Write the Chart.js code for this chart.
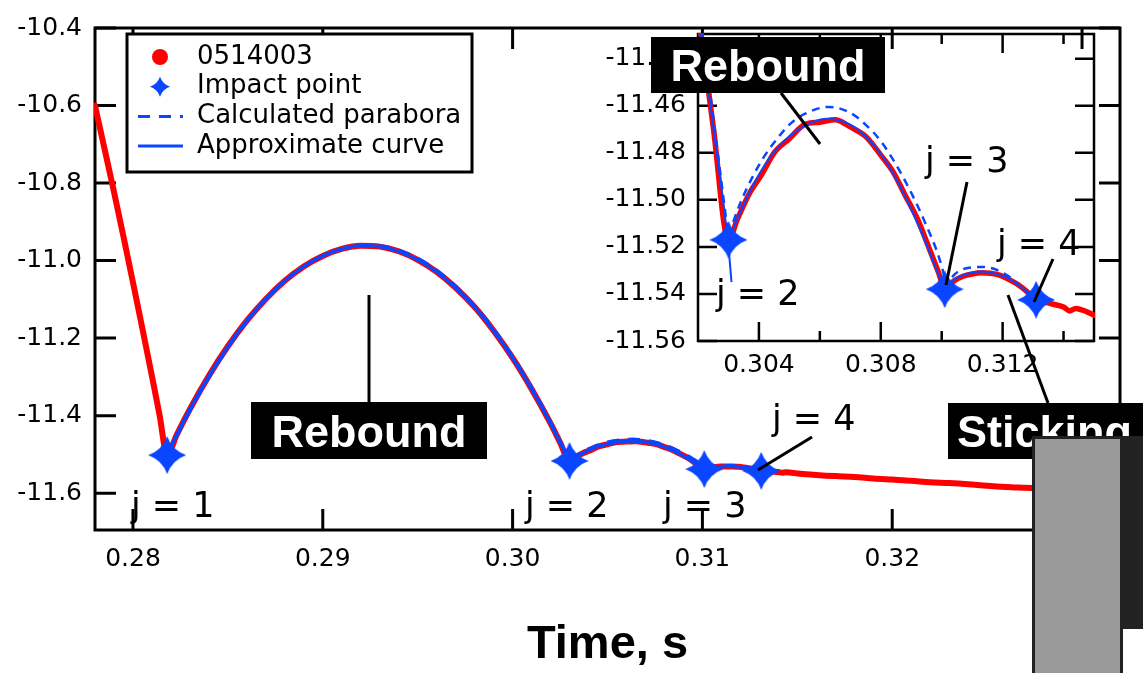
<!DOCTYPE html>
<html>
<head>
<meta charset="utf-8">
<script src="https://cdn.jsdelivr.net/npm/chart.js@4.4.1/dist/chart.umd.min.js"></script>
<style>
html, body { margin: 0; padding: 0; background: #fff; overflow: hidden; }
#wrap { position: relative; width: 1143px; height: 673px; }
#main { position: absolute; left: 0; top: 0; }
#inset { position: absolute; left: 560px; top: 0; }
.cover { position: absolute; }
</style>
</head>
<body>
<div id="wrap">
  <canvas id="main" width="1143" height="673"></canvas>
  <canvas id="inset" width="583" height="410"></canvas>
  <div class="cover" style="left:1119px;top:436px;width:24px;height:193px;background:#222"></div>
  <div class="cover" style="left:1032px;top:436px;width:85px;height:240px;background:#999;border:3px solid #222;border-bottom:none"></div>
</div>
<script>
// data: time in s, height in mm
const seriesNames = ['0514003', 'Impact point', 'Calculated parabora', 'Approximate curve'];

// measured trajectory 0514003
const measT = [0.2780, 0.2785, 0.2790, 0.2795, 0.2800, 0.2805, 0.2810, 0.2814, 0.2818,
  0.2823, 0.2830, 0.2840, 0.2850, 0.2860, 0.2870, 0.2880, 0.2890, 0.2900, 0.2910, 0.2920,
  0.2930, 0.2940, 0.2950, 0.2960, 0.2970, 0.2980, 0.2990, 0.3000, 0.3010, 0.3020, 0.3025, 0.3030,
  0.3033, 0.3037, 0.3041, 0.3045, 0.3050, 0.3055, 0.3060, 0.3065, 0.3070, 0.3075, 0.3080,
  0.3084, 0.3088, 0.3092, 0.3096, 0.3099, 0.3101,
  0.3104, 0.3107, 0.3110, 0.3113, 0.3116, 0.3119, 0.3122, 0.3125, 0.3128, 0.3131,
  0.3134, 0.3137, 0.3140, 0.3142, 0.3144, 0.3146, 0.3148, 0.3150, 0.3155, 0.3160, 0.3170,
  0.3180, 0.3190, 0.3200, 0.3210, 0.3220, 0.3230, 0.3240, 0.3250, 0.3260, 0.3270, 0.3280, 0.3290];
const measY = [-10.600, -10.711, -10.823, -10.938, -11.056, -11.176, -11.298, -11.398, -11.502,
  -11.450, -11.383, -11.297, -11.221, -11.155, -11.099, -11.052, -11.015, -10.988, -10.970, -10.962,
  -10.964, -10.976, -10.998, -11.029, -11.070, -11.120, -11.181, -11.251, -11.331, -11.420, -11.469, -11.517,
  -11.508, -11.497, -11.489, -11.480, -11.474, -11.468, -11.467, -11.466, -11.469, -11.473, -11.481,
  -11.488, -11.498, -11.508, -11.521, -11.531, -11.538,
  -11.5345, -11.5325, -11.5315, -11.531, -11.5312, -11.532, -11.5338, -11.536, -11.539, -11.5425,
  -11.5435, -11.5445, -11.5455, -11.5472, -11.5462, -11.5468, -11.5478, -11.549, -11.551, -11.553, -11.556,
  -11.558, -11.562, -11.565, -11.568, -11.572, -11.574, -11.577, -11.581, -11.584, -11.586, -11.588, -11.590];

// impact points j = 1..4
const impactT = [0.2818, 0.3030, 0.3101, 0.3131];
const impactY = [-11.502, -11.517, -11.538, -11.5425];

// calculated parabola, one arc per rebound (null = break)
const paraT = [0.2818, 0.2825, 0.2835, 0.2850, 0.2865, 0.2880, 0.2895, 0.2910, 0.2923, 0.2935,
  0.2950, 0.2965, 0.2980, 0.2995, 0.3010, 0.3020, 0.3025, 0.3030, 0.3030,
  0.3030, 0.3034, 0.3038, 0.3042, 0.3046, 0.3050, 0.3055, 0.3063, 0.3070, 0.3075, 0.3080,
  0.3085, 0.3090, 0.3095, 0.3099, 0.3101, 0.3101,
  0.3101, 0.3104, 0.3107, 0.3110, 0.3113, 0.3116, 0.3119, 0.3122, 0.3125, 0.3128, 0.3131];
const paraY = [-11.504, -11.435, -11.344, -11.225, -11.128, -11.053, -11.000, -10.969, -10.960, -10.966,
  -10.994, -11.044, -11.116, -11.210, -11.327, -11.416, -11.465, -11.516, null,
  -11.515, -11.501, -11.490, -11.481, -11.474, -11.468, -11.4635, -11.4605, -11.463, -11.468, -11.475,
  -11.485, -11.497, -11.511, -11.524, -11.533, null,
  -11.538, -11.532, -11.5295, -11.5287, -11.5285, -11.5289, -11.5303, -11.5325, -11.5357, -11.5395, -11.544];

// approximate curve
const fitT = [0.2818, 0.2823, 0.2830, 0.2840, 0.2850, 0.2860, 0.2870, 0.2880, 0.2890, 0.2900,
  0.2910, 0.2920, 0.2930, 0.2940, 0.2950, 0.2960, 0.2970, 0.2980, 0.2990, 0.3000, 0.3010,
  0.3020, 0.3025, 0.3030, 0.3031, 0.3031,
  0.3030, 0.3034, 0.3038, 0.3042, 0.3046, 0.3050, 0.3055, 0.3062, 0.3070, 0.3075, 0.3080,
  0.3085, 0.3090, 0.3095, 0.3099, 0.3101, 0.3101,
  0.3101, 0.3104, 0.3107, 0.3110, 0.3113, 0.3116, 0.3119, 0.3122, 0.3125, 0.3128, 0.3131];
const fitY = [-11.502, -11.450, -11.383, -11.298, -11.222, -11.155, -11.099, -11.052, -11.015, -10.988,
  -10.970, -10.962, -10.964, -10.976, -10.998, -11.029, -11.070, -11.120, -11.181, -11.251, -11.331,
  -11.420, -11.469, -11.520, -11.535, null,
  -11.517, -11.505, -11.494, -11.485, -11.478, -11.473, -11.4685, -11.4655, -11.468, -11.473, -11.4805,
  -11.491, -11.504, -11.519, -11.532, -11.538, null,
  -11.538, -11.534, -11.532, -11.531, -11.5305, -11.531, -11.532, -11.5335, -11.536, -11.539, -11.5425];

const mainXTicks = [0.28, 0.29, 0.30, 0.31, 0.32, 0.33];
const mainYTicks = [-10.4, -10.6, -10.8, -11.0, -11.2, -11.4, -11.6];
const insetXTicks = [0.304, 0.308, 0.312];
const insetXMinor = [0.306, 0.310, 0.314];
const insetYTicks = [-11.44, -11.46, -11.48, -11.50, -11.52, -11.54, -11.56];

const RED = '#ff0000';
const BLUE = '#0a46ff';

Chart.defaults.font.family = '"DejaVu Sans", sans-serif';
Chart.defaults.color = '#000';

function pts(T, Y) {
  return T.map((t, i) => ({x: t, y: Y[i]}));
}

// 4 pointed star used for the impact points
function starPath(g, cx, cy, R) {
  const k = R * 0.26;
  g.beginPath();
  g.moveTo(cx, cy - R);
  g.quadraticCurveTo(cx + k, cy - k, cx + R, cy);
  g.quadraticCurveTo(cx + k, cy + k, cx, cy + R);
  g.quadraticCurveTo(cx - k, cy + k, cx - R, cy);
  g.quadraticCurveTo(cx - k, cy - k, cx, cy - R);
  g.closePath();
}
const starImg = document.createElement('canvas');
starImg.width = starImg.height = 38;
(function () {
  const g = starImg.getContext('2d');
  starPath(g, 19, 19, 19);
  g.fillStyle = BLUE;
  g.fill();
})();

// frame with inward ticks on all four sides
const frameAxes = {
  id: 'frameAxes',
  beforeDatasetsDraw(chart, args, o) {
    const {ctx, chartArea: a} = chart;
    const sx = chart.scales.x, sy = chart.scales.y;
    ctx.save();
    ctx.strokeStyle = '#000';
    ctx.lineWidth = o.lw;
    ctx.beginPath();
    const seg = (x1, y1, x2, y2) => { ctx.moveTo(x1, y1); ctx.lineTo(x2, y2); };
    sx.ticks.forEach(t => {
      const p = sx.getPixelForValue(t.value);
      seg(p, a.bottom, p, a.bottom - o.len);
      seg(p, a.top, p, a.top + o.len);
    });
    (o.minorX || []).forEach(v => {
      const p = sx.getPixelForValue(v);
      seg(p, a.bottom, p, a.bottom - o.minorLen);
      seg(p, a.top, p, a.top + o.minorLen);
    });
    sy.ticks.forEach(t => {
      const p = sy.getPixelForValue(t.value);
      seg(a.left, p, a.left + o.len, p);
      seg(a.right, p, a.right - o.len, p);
    });
    ctx.stroke();
    ctx.strokeRect(a.left, a.top, a.right - a.left, a.bottom - a.top);
    ctx.restore();
  }
};

// labels, boxes and leader lines (page pixels, dx = canvas offset)
const notes = {
  id: 'notes',
  afterDatasetsDraw(chart, args, o) {
    const ctx = chart.ctx;
    ctx.save();
    ctx.translate(-o.dx, 0);
    ctx.strokeStyle = '#000';
    ctx.lineWidth = 3;
    (o.lines || []).forEach(l => {
      ctx.beginPath();
      ctx.moveTo(l[0], l[1]);
      ctx.lineTo(l[2], l[3]);
      ctx.stroke();
    });
    (o.boxes || []).forEach(b => {
      ctx.fillStyle = '#000';
      ctx.fillRect(b.x, b.y, b.w, b.h);
      ctx.fillStyle = '#fff';
      ctx.font = 'bold 45px "Liberation Sans"';
      ctx.textBaseline = 'alphabetic';
      ctx.textAlign = b.tx ? 'left' : 'center';
      ctx.fillText(b.text, b.tx || b.x + b.w / 2, b.y + b.h / 2 + 16);
    });
    ctx.fillStyle = '#000';
    ctx.font = '35px "DejaVu Sans"';
    ctx.textAlign = 'left';
    ctx.textBaseline = 'alphabetic';
    (o.texts || []).forEach(t => ctx.fillText(t.text, t.x, t.y));
    ctx.restore();
  }
};

// legend box drawn inside the main plot
const keyBox = {
  id: 'keyBox',
  afterDraw(chart, args, o) {
    const ctx = chart.ctx;
    ctx.save();
    ctx.fillStyle = '#fff';
    ctx.fillRect(o.x, o.y, o.w, o.h);
    ctx.lineWidth = 3;
    ctx.strokeStyle = '#000';
    ctx.strokeRect(o.x, o.y, o.w, o.h);
    ctx.font = '26px "DejaVu Sans"';
    ctx.textBaseline = 'middle';
    seriesNames.forEach((name, i) => {
      const ds = chart.data.datasets.find(d => d.label === name);
      const cy = o.y + 23 + i * 29.7;
      const cx = o.x + 33;
      if (i === 0) {
        ctx.fillStyle = ds.borderColor;
        ctx.beginPath();
        ctx.arc(cx, cy, 8, 0, Math.PI * 2);
        ctx.fill();
      } else if (i === 1) {
        starPath(ctx, cx, cy, 10);
        ctx.fillStyle = BLUE;
        ctx.fill();
      } else {
        ctx.strokeStyle = ds.borderColor;
        ctx.lineWidth = 3;
        ctx.setLineDash(ds.borderDash || []);
        ctx.beginPath();
        ctx.moveTo(o.x + 11, cy);
        ctx.lineTo(o.x + 56, cy);
        ctx.stroke();
        ctx.setLineDash([]);
      }
      ctx.fillStyle = '#000';
      ctx.fillText(name, o.x + 70, cy);
    });
    ctx.restore();
  }
};

function makeSets(s) {
  return [
    {label: seriesNames[1], data: pts(impactT, impactY), showLine: false,
      pointStyle: starImg, pointRadius: 19, order: 0},
    {label: seriesNames[3], data: pts(fitT, fitY), borderColor: BLUE, borderWidth: s.fit,
      pointRadius: 0, cubicInterpolationMode: 'monotone', clip: 1, order: 1},
    {label: seriesNames[2], data: pts(paraT, paraY), borderColor: BLUE, borderWidth: s.para,
      borderDash: s.dash, pointRadius: 0, cubicInterpolationMode: 'monotone', clip: 1, order: 2},
    {label: seriesNames[0], data: pts(measT, measY), borderColor: RED, borderWidth: s.meas,
      borderJoinStyle: 'round', borderCapStyle: 'round',
      pointRadius: 0, cubicInterpolationMode: 'monotone', clip: 1, order: 3}
  ];
}

function axis(min, max, ticks, digits, pad, size, fitFn, title) {
  return {
    type: 'linear', min: min, max: max,
    grid: {display: false, drawTicks: false},
    border: {display: false},
    afterBuildTicks: sc => { sc.ticks = ticks.map(v => ({value: v})); },
    afterFit: fitFn,
    ticks: {autoSkip: false, maxRotation: 0, padding: pad, font: {size: size},
      callback: v => v.toFixed(digits)},
    title: title || {display: false}
  };
}

// main chart
new Chart(document.getElementById('main'), {
  type: 'line',
  data: {datasets: makeSets({meas: 6, fit: 3.5, para: 3, dash: [12, 9]})},
  options: {
    responsive: false, animation: false, devicePixelRatio: 1, events: [],
    layout: {padding: {top: 17, right: 23, left: 0, bottom: 0}},
    scales: {
      x: axis(0.278, 0.332, mainXTicks, 2, 14, 25, sc => { sc.height = 143; }, {
        display: true, text: 'Time, s', padding: {top: 0, bottom: 0},
        font: {family: '"Liberation Sans"', size: 47, weight: 'bold'}
      }),
      y: axis(-11.695, -10.4, mainYTicks, 1, 13, 25, sc => { sc.width = 95; })
    },
    plugins: {
      legend: {display: false},
      tooltip: {enabled: false},
      frameAxes: {lw: 3, len: 21},
      keyBox: {x: 127, y: 34, w: 345, h: 138},
      notes: {
        dx: 0,
        lines: [[369, 295, 369, 402], [812, 437, 758, 470]],
        boxes: [
          {x: 251, y: 402, w: 236, h: 57, text: 'Rebound'},
          {x: 948, y: 403, w: 200, h: 56, text: 'Sticking', tx: 957}
        ],
        texts: [
          {text: 'j = 1', x: 131, y: 517},
          {text: 'j = 2', x: 525, y: 517},
          {text: 'j = 3', x: 663, y: 517},
          {text: 'j = 4', x: 772, y: 430}
        ]
      }
    }
  },
  plugins: [frameAxes, notes, keyBox]
});

// inset chart (zoom on rebounds 2 and 3)
new Chart(document.getElementById('inset'), {
  type: 'line',
  data: {datasets: makeSets({meas: 5.5, fit: 2, para: 2.5, dash: [8, 6]})},
  options: {
    responsive: false, animation: false, devicePixelRatio: 1, events: [],
    layout: {padding: {top: 34, right: 49, left: 0, bottom: 0}},
    scales: {
      x: axis(0.302, 0.315, insetXTicks, 3, 9, 25, sc => { sc.height = 69; }),
      y: axis(-11.56, -11.4295, insetYTicks, 2, 12, 25, sc => { sc.width = 138; })
    },
    plugins: {
      legend: {display: false},
      tooltip: {enabled: false},
      frameAxes: {lw: 2.5, len: 19, minorX: insetXMinor, minorLen: 10},
      notes: {
        dx: 560,
        lines: [[781, 93, 820, 144], [967, 182, 946, 285], [1053, 259, 1034, 302], [1008, 295, 1048, 403]],
        boxes: [{x: 651, y: 37, w: 234, h: 56, text: 'Rebound'}],
        texts: [
          {text: 'j = 2', x: 716, y: 305},
          {text: 'j = 3', x: 925, y: 172},
          {text: 'j = 4', x: 997, y: 255}
        ]
      }
    }
  },
  plugins: [frameAxes, notes]
});
</script>
</body>
</html>
